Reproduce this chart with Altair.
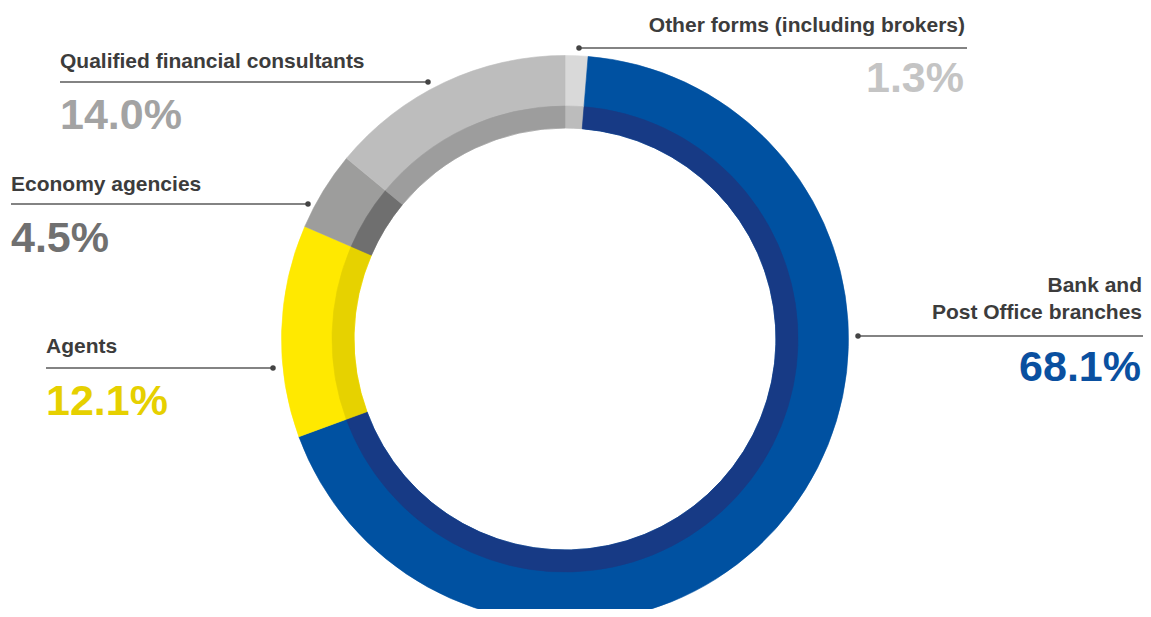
import altair as alt
import pandas as pd

# ---- data ----
categories = [
    "Other forms (including brokers)",
    "Bank and Post Office branches",
    "Agents",
    "Economy agencies",
    "Qualified financial consultants",
]
shares = [1.3, 68.1, 12.1, 4.5, 14.0]
label_lines = [
    ["Other forms (including brokers)"],
    ["Bank and", "Post Office branches"],
    ["Agents"],
    ["Economy agencies"],
    ["Qualified financial consultants"],
]
outer_colors = ["#d9d9d9", "#0051a1", "#ffe900", "#9d9d9c", "#bdbdbd"]
inner_colors = ["#bcbcbc", "#173a85", "#e6d200", "#6f6f6f", "#9d9d9d"]
pct_colors = ["#c4c4c4", "#0a50a0", "#e6d000", "#707070", "#a3a3a3"]

# ---- layout (chart pixel coordinates) ----
CX, CY = 557, 331
R_OUT, R_MID, R_IN = 283.5, 233, 211
side = ["right", "right", "left", "left", "left"]
text_x = [957, 1134, 38, 3, 52]
label_y = [24, 284, 345, 183, 60]
line_gap = 27
rule_y = [40, 328, 360, 196, 74]
rule_x1 = [571, 850, 38, 3, 52]
rule_x2 = [959, 1135, 265, 300, 420]
dot_x = [571, 850, 265, 300, 420]
pct_y = [84, 373, 407, 244, 121]

donut = pd.DataFrame({
    "category": categories,
    "share": shares,
    "idx": list(range(len(categories))),
    "outer": outer_colors,
    "inner": inner_colors,
})

lab_rows = []
for i, lines in enumerate(label_lines):
    for j, t in enumerate(lines):
        lab_rows.append({"text": t, "x": text_x[i], "y": label_y[i] + j * line_gap, "side": side[i]})
labels = pd.DataFrame(lab_rows)

pct = pd.DataFrame({
    "text": [f"{v:.1f}%" for v in shares],
    "x": [text_x[i] - (1 if side[i] == "right" else 0) for i in range(len(shares))],
    "y": pct_y,
    "color": pct_colors,
    "side": side,
})

rules = pd.DataFrame({"x1": rule_x1, "x2": rule_x2, "y": rule_y, "dx": dot_x})

base = alt.Chart(donut).encode(
    theta=alt.Theta("share:Q", stack=True),
    order=alt.Order("idx:Q"),
    x=alt.value(CX),
    y=alt.value(CY),
)
outer = base.mark_arc(radius=R_OUT, radius2=R_IN, strokeWidth=0.6).encode(
    color=alt.Color("outer:N", scale=None),
    stroke=alt.Stroke("outer:N", scale=None),
)
inner = base.mark_arc(radius=R_MID, radius2=R_IN, strokeWidth=0.6).encode(
    color=alt.Color("inner:N", scale=None),
    stroke=alt.Stroke("inner:N", scale=None),
)

X = lambda f: alt.X(f, scale=None, axis=None)
Y = lambda f: alt.Y(f, scale=None, axis=None)

rule_layer = alt.Chart(rules).mark_rule(color="#5a5a5a", strokeWidth=1.6).encode(
    x=X("x1:Q"), x2="x2:Q", y=Y("y:Q")
)
dot_layer = alt.Chart(rules).mark_circle(size=30, color="#444444", opacity=1).encode(
    x=X("dx:Q"), y=Y("y:Q")
)

def label_layer(s):
    return alt.Chart(labels).transform_filter(alt.datum.side == s).mark_text(
        align=s, baseline="alphabetic", font="Liberation Sans", fontWeight="bold",
        fontSize=21, color="#3c3c3c"
    ).encode(x=X("x:Q"), y=Y("y:Q"), text="text:N")

def pct_layer(s):
    return alt.Chart(pct).transform_filter(alt.datum.side == s).mark_text(
        align=s, baseline="alphabetic", font="Liberation Sans", fontWeight="bold",
        fontSize=43
    ).encode(x=X("x:Q"), y=Y("y:Q"), text="text:N", color=alt.Color("color:N", scale=None))

chart = alt.layer(
    outer, inner, rule_layer, dot_layer,
    label_layer("left"), label_layer("right"), pct_layer("left"), pct_layer("right"),
).properties(
    width=1135, height=601, padding=0, autosize=alt.AutoSizeParams(type="none")
).configure_view(strokeWidth=0)

chart.save("out.html", embed_options={"renderer": "svg", "actions": False})
